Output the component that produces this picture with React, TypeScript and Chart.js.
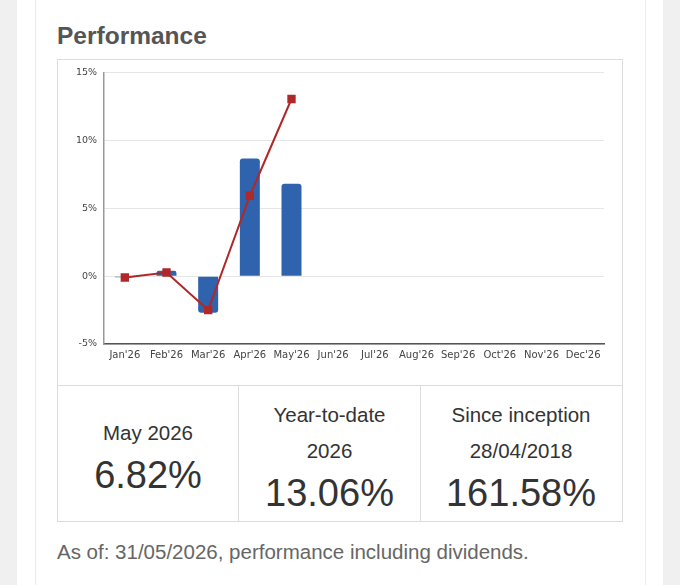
import React, { useEffect, useRef } from "react";
import { Chart, registerables } from "chart.js";

Chart.register(...registerables);

const months = ["Jan'26", "Feb'26", "Mar'26", "Apr'26", "May'26", "Jun'26", "Jul'26", "Aug'26", "Sep'26", "Oct'26", "Nov'26", "Dec'26"];
const monthlyReturns = [-0.08, 0.4, -2.7, 8.68, 6.82, null, null, null, null, null, null, null];
const cumulativeReturns = [-0.1, 0.27, -2.5, 5.93, 13.06, null, null, null, null, null, null, null];
const yTicks = [-5, 0, 5, 10, 15];

const stats = [
  { lines: ["May 2026"], value: "6.82%" },
  { lines: ["Year-to-date", "2026"], value: "13.06%" },
  { lines: ["Since inception", "28/04/2018"], value: "161.58%" },
];

function PerfChart() {
  const ref = useRef<HTMLCanvasElement>(null);
  useEffect(() => {
    if (!ref.current) return;
    const chart = new Chart(ref.current, {
      type: "bar",
      data: {
        labels: months,
        datasets: [
          {
            type: "line",
            data: cumulativeReturns,
            borderColor: "#b02828",
            backgroundColor: "#b02828",
            borderWidth: 2,
            pointStyle: "rect",
            pointRadius: 4.5,
            pointBackgroundColor: "#b02828",
            pointBorderColor: "#b02828",
            tension: 0,
            order: 0,
            spanGaps: false,
          } as any,
          {
            type: "bar",
            data: monthlyReturns,
            backgroundColor: "#2f63ad",
            borderRadius: 3,
            categoryPercentage: 1,
            barPercentage: 0.48,
            order: 1,
          } as any,
        ],
      },
      options: {
        animation: false,
        responsive: false,
        maintainAspectRatio: false,
        layout: { padding: { top: 10, right: 18, left: 0, bottom: 0 } },
        plugins: { legend: { display: false }, tooltip: { enabled: false } },
        scales: {
          x: {
            grid: { display: false, drawTicks: false },
            border: { display: true, color: "#555", width: 1.5 },
            ticks: {
              color: "#444",
              font: { family: "DejaVu Sans", size: 10 },
              padding: 5,
              maxRotation: 0,
              autoSkip: false,
            },
            afterFit: (s: any) => { s.height = 41; },
          },
          y: {
            min: -5,
            max: 15,
            afterBuildTicks: (s: any) => { s.ticks = yTicks.map((v) => ({ value: v })); },
            grid: { color: "#e6e6e6", lineWidth: 1, drawTicks: false },
            border: { display: true, color: "#999", width: 1.5 },
            ticks: {
              color: "#444",
              font: { family: "DejaVu Sans", size: 9.5 },
              padding: 7,
              callback: (v: any) => `${v}%`,
            },
            afterFit: (s: any) => { s.width = 46; },
          },
        },
      },
    });
    return () => chart.destroy();
  }, []);
  return <canvas ref={ref} width={564} height={325} style={{ position: "absolute", left: 58, top: 60, width: 564, height: 325 }} />;
}

export default function App() {
  const font = "'Liberation Sans', Arial, sans-serif";
  return (
    <div style={{ position: "absolute", left: 0, top: 0, width: 680, height: 585, background: "#fff", overflow: "hidden", fontFamily: font }}>
      <div style={{ position: "absolute", left: 0, top: 0, width: 17, height: 585, background: "#f0f0f0" }} />
      <div style={{ position: "absolute", left: 663, top: 0, width: 17, height: 585, background: "#f0f0f0" }} />
      <div style={{ position: "absolute", left: 35, top: 0, width: 1, height: 585, background: "#ececec" }} />
      <div style={{ position: "absolute", left: 645, top: 0, width: 1, height: 585, background: "#ececec" }} />
      <div style={{ position: "absolute", left: 57, top: 21, fontSize: 24.5, fontWeight: "bold", color: "#555", lineHeight: "30px", whiteSpace: "nowrap" }}>Performance</div>
      <div style={{ position: "absolute", left: 57, top: 59, width: 564, height: 326, border: "1px solid #dcdcdc", borderBottom: "none" }} />
      <PerfChart />
      <div style={{ position: "absolute", left: 57, top: 385, width: 566, height: 137, boxSizing: "border-box", border: "1.5px solid #dcdcdc", display: "flex" }}>
        {stats.map((s, i) => (
          <div key={i} style={{ width: i === 0 ? 180 : i === 1 ? 182 : 201, boxSizing: "border-box", borderLeft: i > 0 ? "1.5px solid #dcdcdc" : "none", display: "flex", flexDirection: "column", alignItems: "center", justifyContent: "center", paddingTop: 7, color: "#333" }}>
            {s.lines.map((l, j) => (
              <div key={j} style={{ fontSize: 20.5, lineHeight: "36px", whiteSpace: "nowrap" }}>{l}</div>
            ))}
            <div style={{ fontSize: 38, lineHeight: "48px", whiteSpace: "nowrap" }}>{s.value}</div>
          </div>
        ))}
      </div>
      <div style={{ position: "absolute", left: 57, top: 538, fontSize: 20.5, lineHeight: "28px", color: "#666", whiteSpace: "nowrap" }}>As of: 31/05/2026, performance including dividends.</div>
    </div>
  );
}
